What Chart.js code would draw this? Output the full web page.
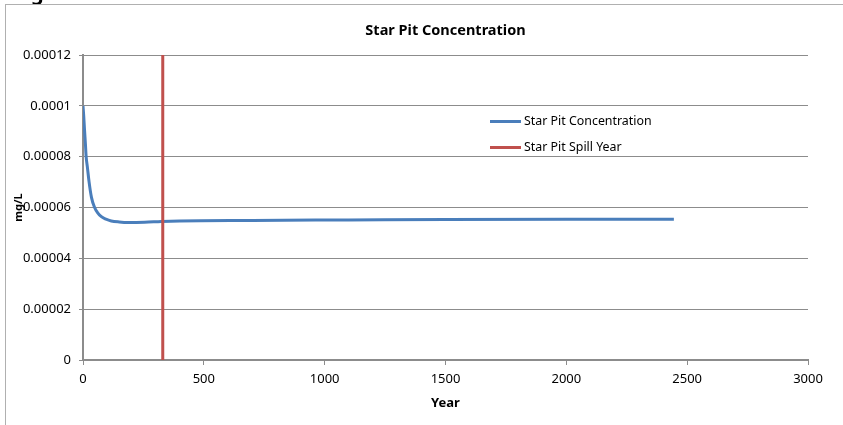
<!DOCTYPE html>
<html>
<head>
<meta charset="utf-8">
<script src="https://cdn.jsdelivr.net/npm/chart.js@4/dist/chart.umd.min.js"></script>
<style>
    body { margin:0; background:#fff; }
    #wrap { position:relative; width:843px; height:425px; overflow:hidden; font-family:'Noto Sans', sans-serif; }
    #frame { position:absolute; left:5px; top:4px; right:-2px; bottom:-2px; border-left:1px solid #b0b0b0; border-top:1px solid #b0b0b0; }
    #cut { position:absolute; left:31px; top:-21px; font:bold 20px 'Noto Sans'; color:#000; }
    .leg { position:absolute; left:490px; font-size:12.4px; color:#000; line-height:14px; }
    .leg span { display:inline-block; width:31px; height:3px; vertical-align:middle; margin-right:3px; }
</style>
</head>
<body>
<div id="wrap">
    <div id="cut">g</div>
    <div id="frame"></div>
    <canvas id="myChart"></canvas>
    <div class="leg" style="top:114px"><span style="background:#4A7EBB"></span>Star Pit Concentration</div>
    <div class="leg" style="top:140px"><span style="background:#C0504D"></span>Star Pit Spill Year</div>
</div>
<script>
// -- data --
const years = [0, 3, 6, 10, 13, 18, 25, 35, 48, 60, 76, 95, 117, 150, 186, 255, 324, 400, 700, 1100, 1500, 2000, 2445];
const conc  = [0.0001, 0.000096, 0.000091, 0.000085, 0.00008, 0.000076, 0.0000702, 0.000064, 0.00006, 0.000058, 0.0000564,
               0.0000554, 0.0000547, 0.0000543, 0.0000541, 0.0000542, 0.0000545, 0.0000547, 0.0000549, 0.0000551,
               0.0000553, 0.0000554, 0.0000554];
const spillYear = 330;
const spillRange = [0, 0.00012];
const yTicks = ['0', '0.00002', '0.00004', '0.00006', '0.00008', '0.0001', '0.00012'];
const xTicks = ['0', '500', '1000', '1500', '2000', '2500', '3000'];
const chartTitle = 'Star Pit Concentration';

const gridGray = '#8c8c8c';
const tickFont = { family:'Noto Sans', size:13 };

// --> title centred over the plot area, not the whole canvas <--
const plotTitle = {
    id: 'plotTitle',
    afterDraw(chart) {
        const c = chart.ctx;
        const a = chart.chartArea;
        c.save();
        c.font = 'bold 14.5px "Noto Sans"';
        c.fillStyle = '#000';
        c.textAlign = 'center';
        c.textBaseline = 'middle';
        c.fillText(chartTitle, (a.left + a.right) / 2, 31);
        c.restore();
    }
};

let chartObj = {
    type: 'line',
    data: {
        datasets: [{
            label: 'Star Pit Concentration',
            data: years.map((x, i) => ({ x: x, y: conc[i] })),
            borderColor: '#4A7EBB',
            borderWidth: 3,
            pointRadius: 0,
            cubicInterpolationMode: 'monotone',
            order: 2
        },
        {
            label: 'Star Pit Spill Year',
            data: spillRange.map(v => ({ x: spillYear, y: v })),
            borderColor: '#C0504D',
            borderWidth: 3,
            pointRadius: 0,
            order: 1
        }]
    },
    options: {
        responsive: false,
        animation: false,
        layout: { padding: { left: 0, right: 35, top: 55, bottom: 0 } },
        plugins: {
            legend: { display: false },
            tooltip: { enabled: false }
        },
        scales: {
            x: {
                type: 'linear',
                min: 0, max: 3000,
                ticks: { stepSize: 500, color:'#000', font: tickFont, padding: 6, maxRotation: 0, callback: (v, i) => xTicks[i] },
                grid: { drawOnChartArea: false, tickLength: 5, color: gridGray },
                border: { color: gridGray, width: 2 },
                title: { display: true, text: 'Year', color:'#000', font: { family:'Noto Sans', size:13, weight:'bold' }, padding: { top: 0, bottom: 14 } },
                afterFit: s => { s.height = 65; }
            },
            y: {
                min: 0, max: 0.00012,
                ticks: { stepSize: 0.00002, color:'#000', font: tickFont, padding: 8, callback: (v, i) => yTicks[i] },
                grid: { color: gridGray, tickLength: 4, tickColor: gridGray },
                border: { color: gridGray, width: 2 },
                title: { display: true, text: 'mg/L', color:'#000', font: { family:'Noto Sans', size:11, weight:'bold' }, padding: { top: 12, bottom: 0 } },
                afterFit: s => { s.width = 83; }
            }
        }
    },
    plugins: [plotTitle]
};

const canvas = document.getElementById('myChart');
canvas.width = 843;
canvas.height = 425;
const myChart = new Chart(canvas.getContext('2d'), chartObj);
</script>
</body>
</html>
